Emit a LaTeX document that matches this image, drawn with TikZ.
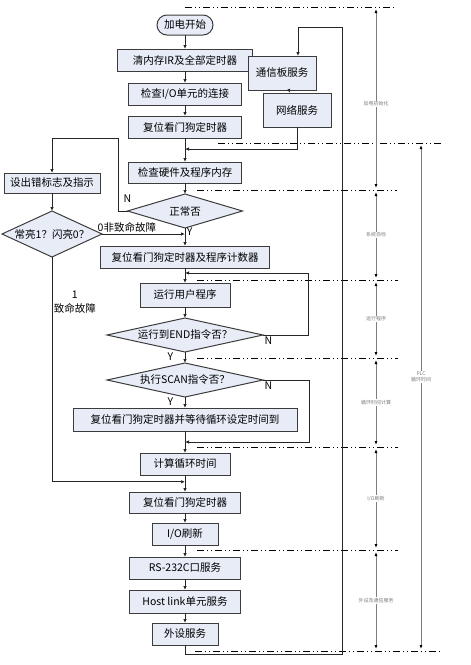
\documentclass[tikz,border=0pt]{standalone}
\usepackage{fontspec}
\setmainfont{Noto Sans CJK SC}
\usetikzlibrary{arrows.meta,positioning,shapes.geometric,calc}
\definecolor{boxblue}{RGB}{231,236,247}
\definecolor{boxline}{RGB}{60,60,60}
\definecolor{dimgray}{RGB}{125,125,125}

\begin{document}
\begin{tikzpicture}[x=1pt,y=-1pt,
    font=\fontsize{10.5}{12}\selectfont,
    box/.style={draw=boxline, line width=1pt, fill=boxblue, minimum height=22pt, inner sep=2pt, outer sep=0pt},
    decision/.style={draw=boxline, line width=1pt, fill=boxblue, diamond, inner sep=0pt, outer sep=0pt, minimum height=34pt},
    flow/.style={draw=black!85, line width=0.8pt, -{Latex[length=4pt,width=3.5pt]}},
    sepline/.style={line width=0.8pt, dash pattern=on 7pt off 3pt on 1pt off 3pt on 1pt off 3pt},
    dimline/.style={dimgray, line width=1pt, shorten <=2pt, shorten >=2pt,
        {Latex[length=4pt,width=3pt,black]}-{Latex[length=4pt,width=3pt,black]}},
    dimtext/.style={fill=white, font=\fontsize{5}{6}\selectfont, text=dimgray, inner sep=1pt},
    lbl/.style={inner sep=1.5pt}
]
\useasboundingbox (0,0) rectangle (471,665);

\draw[sepline] (185,7) -- (397,7);
\draw[sepline] (218,143) -- (443,143);
\draw[sepline] (197,190) -- (397,190);
\draw[sepline] (197,280) -- (398,280);
\draw[sepline] (197,358) -- (398,358);
\draw[sepline] (197,447) -- (398,447);
\draw[sepline] (197,550) -- (398,550);
\draw[sepline] (195,651) -- (443,651);

\node[box, rounded corners=10pt, minimum width=56pt, minimum height=20pt] (start) at (185,25) {加电开始};
\node[box, minimum width=135pt, below=14pt of start] (clr) {清内存IR及全部定时器};
\node[box, minimum width=113pt, below=12pt of clr] (ioc) {检查I/O单元的连接};
\node[box, minimum width=113pt, below=11pt of ioc] (wdta) {复位看门狗定时器};
\node[box, minimum width=113pt, minimum height=21pt, below=24pt of wdta] (hw) {检查硬件及程序内存};
\node[decision, minimum width=115pt, aspect=3.4, below=11pt of hw] (ok) {正常否};
\node[box, minimum width=169pt, below=18pt of ok] (wdtpc) {复位看门狗定时器及程序计数器};
\node[box, minimum width=90pt, minimum height=24pt, below=15pt of wdtpc] (run) {运行用户程序};
\node[decision, minimum width=156pt, aspect=4.6, below=11pt of run] (endq) {运行到END指令否？};
\node[decision, minimum width=156pt, aspect=4.6, below=11pt of endq] (scanq) {执行SCAN指令否？};
\node[box, minimum width=224pt, minimum height=23pt, below=11pt of scanq] (wait) {复位看门狗定时器并等待循环设定时间到};
\node[box, minimum width=90pt, below=22pt of wait] (cyc) {计算循环时间};
\node[box, minimum width=111pt, minimum height=21pt, below=17pt of cyc] (wdtb) {复位看门狗定时器};
\node[box, minimum width=66pt, below=10pt of wdtb] (io) {I/O刷新};
\node[box, minimum width=111pt, below=12pt of io] (rs) {RS-232C口服务};
\node[box, minimum width=111pt, minimum height=23pt, below=11pt of rs] (host) {Host link单元服务};
\node[box, minimum width=66pt, below=10pt of host] (per) {外设服务};

\node[box, minimum width=68pt, minimum height=34pt] (comm) at (282,73) {通信板服务};
\node[box, minimum width=68pt, minimum height=34pt] (net) at (297,110) {网络服务};

\node[box, minimum width=96pt, minimum height=20pt] (err) at (52,183) {设出错标志及指示};
\node[decision, minimum width=100pt, minimum height=46pt, aspect=2.17, below=18pt of err] (flash) {常亮1？闪亮0？};

\coordinate (netin) at ($(wdta.south)!0.46!(hw.north)$);
\coordinate (nturn) at (118,138);
\coordinate (fatal) at ($(cyc.south)!0.4!(wdtb.north)$);
\coordinate (runin) at ($(wdtpc.south)!0.33!(run.north)$);
\coordinate (cycin) at ($(wait.south)!0.5!(cyc.north)$);
\coordinate (retbot) at (342,654);
\coordinate (rettop) at (342,27);

\draw[flow] (start) -- (clr);
\draw[flow] (clr) -- (ioc);
\draw[flow] (ioc) -- (wdta);
\draw[flow] (wdta) -- (hw);
\draw[flow] (hw) -- (ok);
\draw[flow] (ok) -- (wdtpc) node[pos=0.2, right, lbl] (yok) {Y};
\draw[flow] (comm) -- (net);
\draw[flow] (net.south) |- (netin);
\draw[flow] (per.south) |- (retbot) -- (rettop) -| ($(comm.north)+(16,0)$);

\draw[flow] (ok.west) -| (nturn) -| (err.north);
\node[lbl, above=7pt of ok.west] (nok) {N};
\draw[flow] (err) -- (flash);
\draw[flow] (flash.east) -- (flash.east -| ok.south) node[pos=0.3, above, lbl] (minor) {0非致命故障};
\draw[flow] (flash.south) |- (fatal) node[pos=0.1, right, align=center, lbl, font=\fontsize{10.5}{14}\selectfont] (major) {1\\致命故障};

\draw[flow] (wdtpc) -- (run);
\draw[flow] (run) -- (endq);
\draw[flow] (endq.east) -- ++(45,0) |- (runin);
\node[lbl, below right=0pt of endq.east] (nend) {N};
\draw[flow] (endq) -- (scanq) node[pos=0.4, left=8pt] (yend) {Y};
\draw[flow] (scanq.east) -- ++(46,0) |- (cycin);
\node[lbl, below right=0pt of scanq.east] (nscan) {N};
\draw[flow] (scanq) -- (wait) node[pos=0.4, left=8pt] (yscan) {Y};
\draw[flow] (wait) -- (cyc);
\draw[flow] (cyc) -- (wdtb);
\draw[flow] (wdtb) -- (io);
\draw[flow] (io) -- (rs);
\draw[flow] (rs) -- (host);
\draw[flow] (host) -- (per);

\draw[dimline] (376,7) -- (376,190) node[dimtext, pos=0.53] (tinit) {加电初始化};
\draw[dimline] (376,190) -- (376,280) node[dimtext, midway] (tself) {系统自检};
\draw[dimline] (376,280) -- (376,358) node[dimtext, midway] (trun) {运行程序};
\draw[dimline] (376,358) -- (376,447) node[dimtext, midway] (tcyc) {循环时间计算};
\draw[dimline] (376,447) -- (376,550) node[dimtext, midway] (tio) {I/O刷新};
\draw[dimline] (376,550) -- (376,651) node[dimtext, midway] (tsvc) {外设及通信服务};
\draw[dimline] (421,143) -- (421,651) node[dimtext, pos=0.46, align=center] (tplc) {PLC\\循环时间};
\end{tikzpicture}
\end{document}
